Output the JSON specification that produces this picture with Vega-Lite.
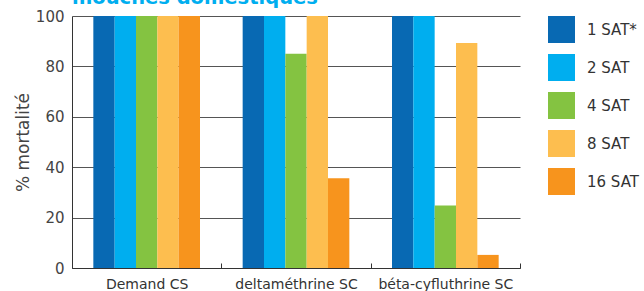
{
  "$schema": "https://vega.github.io/schema/vega-lite/v6.json",
  "autosize": "none",
  "width": 448,
  "height": 252,
  "padding": {"left": 72, "top": 16, "right": 124, "bottom": 23},
  "background": "white",
  "title": {"text": "mouches domestiques", "anchor": "start", "frame": "group", "baseline": "alphabetic", "offset": 3, "dy": 17, "fontSize": 19.5, "fontWeight": "bold", "color": "#00aeef", "font": "DejaVu Sans"},
  "data": {"values": [
    {"produit": "Demand CS", "sat": "1 SAT*", "v": 100},
    {"produit": "Demand CS", "sat": "2 SAT", "v": 100},
    {"produit": "Demand CS", "sat": "4 SAT", "v": 100},
    {"produit": "Demand CS", "sat": "8 SAT", "v": 100},
    {"produit": "Demand CS", "sat": "16 SAT", "v": 100},
    {"produit": "deltaméthrine SC", "sat": "1 SAT*", "v": 100},
    {"produit": "deltaméthrine SC", "sat": "2 SAT", "v": 100},
    {"produit": "deltaméthrine SC", "sat": "4 SAT", "v": 85},
    {"produit": "deltaméthrine SC", "sat": "8 SAT", "v": 100},
    {"produit": "deltaméthrine SC", "sat": "16 SAT", "v": 35.6},
    {"produit": "béta-cyfluthrine SC", "sat": "1 SAT*", "v": 100},
    {"produit": "béta-cyfluthrine SC", "sat": "2 SAT", "v": 100},
    {"produit": "béta-cyfluthrine SC", "sat": "4 SAT", "v": 24.8},
    {"produit": "béta-cyfluthrine SC", "sat": "8 SAT", "v": 89.3},
    {"produit": "béta-cyfluthrine SC", "sat": "16 SAT", "v": 5.2}
  ]},
  "mark": {"type": "bar"},
  "encoding": {
    "x": {"field": "produit", "type": "nominal", "sort": null,
      "scale": {"paddingInner": 0, "paddingOuter": 0},
      "axis": {"title": null, "labelAngle": 0, "tickBand": "extent", "tickSize": -5, "tickColor": "#333", "domainColor": "#333", "labelPadding": 14, "labelFontSize": 14, "labelColor": "#333", "labelFont": "DejaVu Sans", "grid": false}},
    "xOffset": {"field": "sat", "type": "nominal", "sort": ["1 SAT*", "2 SAT", "4 SAT", "8 SAT", "16 SAT"],
      "scale": {"paddingInner": 0, "paddingOuter": 1.05}},
    "y": {"field": "v", "type": "quantitative", "scale": {"domain": [0, 100], "nice": false},
      "axis": {"title": "% mortalité", "values": [0, 20, 40, 60, 80, 100], "labelOverlap": false, "ticks": false, "labelPadding": 8, "labelFontSize": 15, "labelColor": "#444", "labelFont": "DejaVu Sans", "titleFont": "DejaVu Sans", "titleFontSize": 17, "titleFontWeight": "normal", "titleColor": "#444", "titlePadding": 3, "domainColor": "#333", "gridColor": "#555", "gridOpacity": 1}},
    "color": {"field": "sat", "type": "nominal", "sort": ["1 SAT*", "2 SAT", "4 SAT", "8 SAT", "16 SAT"],
      "scale": {"domain": ["1 SAT*", "2 SAT", "4 SAT", "8 SAT", "16 SAT"], "range": ["#0869b3", "#00aeef", "#84c341", "#fdbe4f", "#f7941d"]},
      "legend": {"title": null, "symbolType": "square", "symbolSize": 729, "symbolStrokeWidth": 0, "symbolOpacity": 1, "labelFontSize": 15, "labelColor": "#333", "labelFont": "DejaVu Sans", "rowPadding": 11, "labelOffset": 12, "offset": 28, "padding": 0}}
  },
  "config": {"view": {"stroke": null}}
}
